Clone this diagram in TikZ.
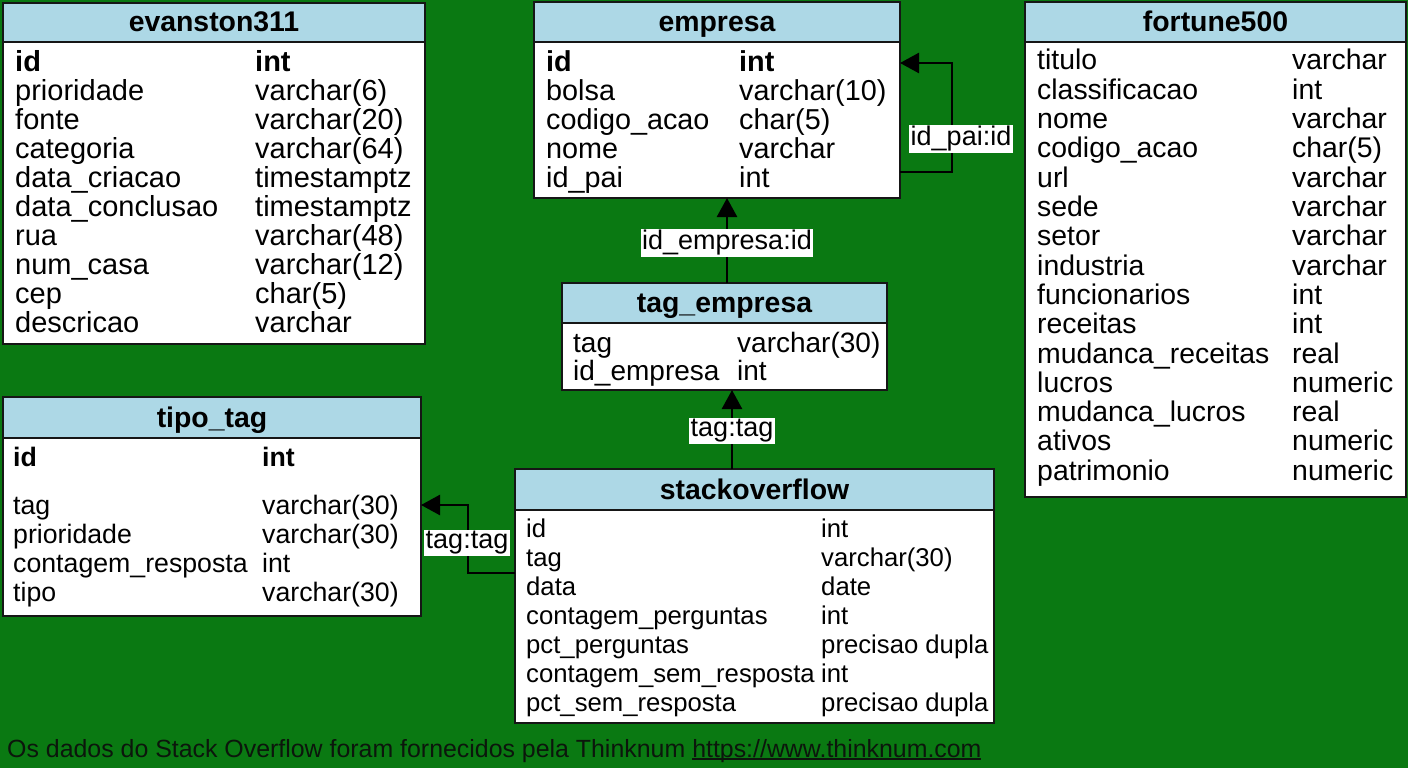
\documentclass[tikz,border=0pt]{standalone}
\usepackage{fontspec}
\setmainfont{Liberation Sans}
\usetikzlibrary{arrows.meta}
\definecolor{bg}{RGB}{10,121,18}
\definecolor{hdr}{RGB}{173,216,230}
\definecolor{lineC}{RGB}{22,22,22}
\definecolor{footC}{RGB}{12,22,12}
\newcommand\fsz[1]{\fontsize{#1}{#1}\selectfont}
\newcommand\myul[1]{\setbox0\hbox{#1}\rlap{\rule[-2.5pt]{\wd0}{1.6pt}}\box0}
\newcommand\tabrows[7]{\foreach \cA/\cB [count=\ci] in {#7}{%
  \node[cell,font=#6] (#1n\ci) at ({#2},{#4+(\ci-1)*#5}) {\cA};
  \node[cell,font=#6] (#1t\ci) at ({#3},{#4+(\ci-1)*#5}) {\cB};}}
\tikzset{
  tbox/.style={draw=lineC, line width=2.5pt, fill=white, inner sep=0pt, outer sep=0pt, anchor=north west,
    path picture={\fill[hdr] (path picture bounding box.north west) rectangle ([yshift=-#1]path picture bounding box.north east);
      \draw[lineC, line width=2.5pt] ([yshift=-#1]path picture bounding box.north west) -- ([yshift=-#1]path picture bounding box.north east);}},
  cell/.style={anchor=base west, inner sep=0pt},
  ttl/.style={anchor=base, inner sep=0pt, font=\fsz{28.4}\bfseries},
  lbl/.style={fill=white, inner xsep=1.5pt, inner ysep=1pt, font=\fsz{27}},
  fk/.style={draw=black, line width=2.5pt, -{Triangle[length=19pt,width=20pt]}}
}
\begin{document}
\begin{tikzpicture}[x=1pt,y=-1pt]
\fill[bg] (0,0) rectangle (1408,768);
\useasboundingbox (0,0) rectangle (1408,768);

% tables
\node[tbox=39pt, minimum width=422pt, minimum height=341pt] (evan) at (3,3) {};
\node[tbox=40pt, minimum width=366pt, minimum height=196pt] (emp) at (534,2) {};
\node[tbox=40pt, minimum width=381pt, minimum height=495pt] (fort) at (1025,2) {};
\node[tbox=40pt, minimum width=325pt, minimum height=107pt] (tage) at (562,283) {};
\node[tbox=41pt, minimum width=418pt, minimum height=219pt] (tt) at (3,397) {};
\node[tbox=41pt, minimum width=479pt, minimum height=254pt] (so) at (515,469) {};

% titles
\node[ttl] (evan-h) at (214,32) {evanston311};
\node[ttl] (emp-h) at (717,32) {empresa};
\node[ttl] (fort-h) at (1215.5,32) {fortune500};
\node[ttl] (tage-h) at (724.5,312) {tag\_empresa};
\node[ttl] (tt-h) at (212,427) {tipo\_tag};
\node[ttl] (so-h) at (754.5,499) {stackoverflow};

% rows
\tabrows{ev}{15}{255}{71}{29.1}{\fsz{29}}{{\bfseries id}/{\bfseries int}, prioridade/varchar(6), fonte/varchar(20), categoria/varchar(64), data\_criacao/timestamptz, data\_conclusao/timestamptz, rua/varchar(48), num\_casa/varchar(12), cep/char(5), descricao/varchar}
\tabrows{em}{546}{739}{71}{29}{\fsz{28.8}}{{\bfseries id}/{\bfseries int}, bolsa/varchar(10), codigo\_acao/char(5), nome/varchar, id\_pai/int}
\tabrows{fo}{1037}{1292}{70}{29.3}{\fsz{28.4}}{titulo/varchar, classificacao/int, nome/varchar, codigo\_acao/char(5), url/varchar, sede/varchar, setor/varchar, industria/varchar, funcionarios/int, receitas/int, mudanca\_receitas/real, lucros/numeric, mudanca\_lucros/real, ativos/numeric, patrimonio/numeric}
\tabrows{te}{573}{737}{352}{28}{\fsz{28}}{tag/varchar(30), id\_empresa/int}
\tabrows{ta}{13}{262}{466}{29}{\fsz{26.7}}{{\bfseries id}/{\bfseries int}}
\tabrows{tb}{13}{262}{514}{29}{\fsz{26.7}}{tag/varchar(30), prioridade/varchar(30), contagem\_resposta/int, tipo/varchar(30)}
\tabrows{so}{526}{821}{537}{29}{\fsz{25.7}}{id/int, tag/varchar(30), data/date, contagem\_perguntas/int, pct\_perguntas/precisao dupla, contagem\_sem\_resposta/int, pct\_sem\_resposta/precisao dupla}

% connectors
\draw[fk] ([xshift=2.5pt]tage.north) -- ([xshift=2.5pt]tage.north |- emp.south);
\draw[fk] ([xshift=-22.5pt]so.north) -- ([xshift=-22.5pt]so.north |- tage.south);
\draw[fk] ([yshift=-72pt]emp.east) -- ++(52pt,0) |- ([yshift=37pt]emp.east);
\draw[fk] ([yshift=23pt]so.west) -- ++(-47pt,0) |- ([yshift=1.5pt]tt.east);

% connector labels
\node[lbl] (l1) at (727,243) {id\_empresa:id};
\node[lbl] (l2) at (732,431) {tag:tag};
\node[lbl] (l3) at (961,139) {id\_pai:id};
\node[lbl] (l4) at (467,543) {tag:tag};

% footer
\node[anchor=base west, inner sep=0pt, font=\fsz{24.9}, text=footC] (foot) at (7,757) {Os dados do Stack Overflow foram fornecidos pela Thinknum \myul{https://www.thinknum.com}};
\end{tikzpicture}
\end{document}
